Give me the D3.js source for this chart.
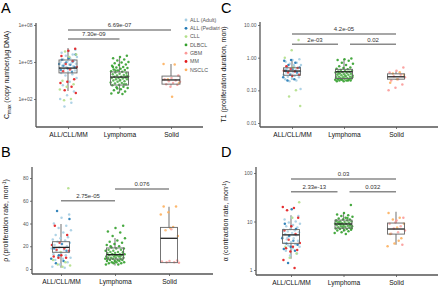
<!DOCTYPE html>
<html><head><meta charset="utf-8">
<script src="https://cdn.jsdelivr.net/npm/d3@7"></script>
<style>body{margin:0;background:#fff}svg{display:block;font-family:"Liberation Sans",Arial,sans-serif}</style>
</head><body><svg id="c" width="440" height="288"></svg>
<script>
const groups = ["ALL/CLL/MM", "Lymphoma", "Solid"];
const subtypes = ["ALL (Adult)", "ALL (Pediatric)", "CLL", "DLBCL", "GBM", "MM", "NSCLC"];
const subtypeColors = ["#a6cee3", "#1f78b4", "#b2df8a", "#33a02c", "#fb9a99", "#e31a1c", "#fdb05e"];
const subtypeGroup = ["ALL/CLL/MM", "ALL/CLL/MM", "ALL/CLL/MM", "Lymphoma", "Solid", "ALL/CLL/MM", "Solid"];

// Panel A: Cmax (copy number / ug DNA)
const cmaxAdult = [1e6, 7.9e5, 5.6e5, 4e5, 3.2e5, 2.5e5, 2e5, 1.6e5, 1.3e5, 1.1e5, 1e5, 8.9e4, 7.9e4, 7.1e4, 6.3e4, 5e4, 4.5e4, 4e4, 3.2e4, 2.8e4, 2.5e4, 2e4, 1.6e4, 1.3e4, 1e4, 7.9e3, 5e3, 2.5e3, 1.3e3, 400, 200, 100, 50, 25];
const cmaxPediatric = [4e5, 2e5, 1.5e5, 1.1e5, 9e4, 7e4, 6e4, 5e4, 4e4, 3e4, 2.2e4, 1.6e4];
const cmaxCLL = [7e5, 4e5, 2.5e5, 3e3, 1.6e3, 1e3, 6e2, 1e2, 8e1];
const cmaxMM = [1.2e6, 8e5, 3e5, 1.2e5, 7e4, 4e4, 2.5e4, 1.8e4, 4e3, 2.5e3, 2e3, 1e3, 5e2, 3e2];
const cmaxDLBCL = [3.2e5, 2.5e5, 2e5, 1.6e5, 1.3e5, 1e5, 8.9e4, 7.9e4, 6.3e4, 5.6e4, 5e4, 4e4, 3.5e4, 3.2e4, 2.8e4, 2.5e4, 2.2e4, 2e4, 1.8e4, 1.6e4, 1.4e4, 1.3e4, 1.1e4, 1e4, 8.9e3, 7.9e3, 7.1e3, 6.3e3, 6.3e3, 5.6e3, 5e3, 5e3, 4.5e3, 4e3, 4e3, 3.5e3, 3.2e3, 2.8e3, 2.5e3, 2.2e3, 2e3, 1.8e3, 1.6e3, 1.4e3, 1.3e3, 1e3, 8.9e2, 7.9e2, 6.3e2, 5e2, 4e2, 3.2e2, 2.8e2, 2.5e2, 2e4, 7.9e3, 3.2e3, 4e4, 1.6e3, 7e2];
const cmaxGBM = [7.9e3, 5e3, 4e3, 3.2e3, 2.8e3, 2.5e3, 2e3, 1.6e3, 1.4e3, 1e3];
const cmaxNSCLC = [7e4, 6.3e4, 4e3, 2e3, 1.5e2];
const cmaxBox = [[450, 1.3e4, 3.2e4, 1.45e5, 1.35e6], [310, 1.35e3, 6e3, 1.55e4, 2.1e5], [1.26e3, 1.6e3, 3.5e3, 7.2e3, 6.9e4]];
const cmaxTicks = [1e2, 1e5, 1e8];
const cmaxTickLabels = ["1e+02", "1e+05", "1e+08"];
const cmaxBrackets = [["ALL/CLL/MM", "Lymphoma", "7.30e-09", 0], ["ALL/CLL/MM", "Solid", "6.69e-07", 1]];

// Panel B: rho (proliferation rate, 1/mon)
const rhoAdult = [48, 45, 40, 38, 36, 34, 32, 30, 28, 27, 26, 25, 24, 23, 22, 21, 20, 19, 18, 17, 16, 15, 14, 13, 12, 11, 10, 9, 8, 6, 4, 2, 1];
const rhoPediatric = [51, 44, 22, 18, 16, 12, 9, 7, 5];
const rhoCLL = [71, 15, 8, 6, 4, 3, 2];
const rhoMM = [38, 30, 23, 21, 18, 17, 16, 12, 11, 10, 10];
const rhoDLBCL = [38, 36, 33, 32, 29, 27, 25, 24, 23, 22, 21, 20, 19, 18, 18, 17, 17, 16, 16, 15, 15, 14, 14, 14, 13, 13, 13, 12, 12, 12, 11, 11, 11, 10, 10, 10, 10, 9, 9, 9, 8, 8, 8, 7, 7, 7, 6, 6, 6, 5, 5, 5, 4, 4, 20, 15, 12, 9, 11, 13];
const rhoGBM = [7.5, 7, 6.5, 6, 6, 5.5, 35];
const rhoNSCLC = [55, 55, 50, 48, 37, 34, 29, 36];
const rhoBox = [[1, 14.7, 19, 24, 39.6], [3, 8.8, 12.6, 18.5, 27.3], [5.5, 5.6, 27, 36.6, 54.8]];
const rhoTicks = [0, 20, 40, 60, 80];
const rhoTickLabels = ["0", "20", "40", "60", "80"];
const rhoBrackets = [["ALL/CLL/MM", "Lymphoma", "2.75e-05", 0], ["Lymphoma", "Solid", "0.076", 1]];

// Panel C: T1 (proliferation duration, mon)
const t1Adult = [0.9, 0.85, 0.75, 0.7, 0.65, 0.6, 0.55, 0.5, 0.48, 0.45, 0.43, 0.42, 0.4, 0.38, 0.36, 0.35, 0.33, 0.32, 0.3, 0.28, 0.26, 0.25, 0.23, 0.22, 0.2, 0.19, 0.11, 0.6, 0.45, 0.3];
const t1Pediatric = [0.85, 0.8, 0.7, 0.6, 0.5, 0.45, 0.4, 0.35, 0.3, 0.25, 0.22, 0.2];
const t1CLL = [3.5, 1.7, 1.0, 0.1, 0.065, 0.033, 0.5];
const t1MM = [0.55, 0.48, 0.45, 0.4, 0.38, 0.35, 0.3, 0.28];
const t1DLBCL = [0.95, 0.9, 0.85, 0.8, 0.7, 0.65, 0.6, 0.55, 0.5, 0.48, 0.46, 0.44, 0.42, 0.4, 0.4, 0.38, 0.37, 0.36, 0.35, 0.34, 0.33, 0.32, 0.31, 0.3, 0.3, 0.29, 0.28, 0.27, 0.26, 0.26, 0.25, 0.25, 0.24, 0.24, 0.23, 0.23, 0.22, 0.22, 0.21, 0.21, 0.2, 0.2, 0.2, 0.19, 0.19, 0.2, 0.22, 0.25, 0.28, 0.33];
const t1GBM = [0.5, 0.4, 0.35, 0.3, 0.27, 0.25, 0.22, 0.2, 0.15, 0.12, 0.1];
const t1NSCLC = [0.36, 0.33, 0.3, 0.22, 0.17];
const t1Box = [[0.21, 0.29, 0.39, 0.49, 0.89], [0.21, 0.23, 0.37, 0.44, 0.91], [0.21, 0.22, 0.26, 0.32, 0.38]];
const t1Ticks = [0.01, 0.1, 1, 10];
const t1TickLabels = ["0.01", "0.10", "1.00", "10.00"];
const t1Brackets = [["ALL/CLL/MM", "Lymphoma", "2e-03", 0], ["Lymphoma", "Solid", "0.02", 0], ["ALL/CLL/MM", "Solid", "4.2e-05", 1]];

// Panel D: alpha (contraction rate, 1/mon)
const alphaAdult = [13, 12, 11, 10, 9.5, 9, 8.5, 8, 7.5, 7, 6.8, 6.5, 6.2, 6, 5.8, 5.5, 5.2, 5, 4.8, 4.5, 4.3, 4, 3.8, 3.6, 3.4, 3.2, 3, 2.8, 2.5, 2.2, 2, 6.3, 5.4, 4.6, 3.9];
const alphaPediatric = [18, 9, 7, 5, 4.5, 4, 3.5, 3.3, 3, 2.7, 2.5, 1.4];
const alphaCLL = [25, 12, 3, 2.2, 1.8];
const alphaMM = [20, 19, 17, 12, 8, 6.5, 5.5, 4.2, 3.6, 3.0, 2.8, 2.6, 2.4, 1.6, 1.1];
const alphaDLBCL = [22, 15, 14, 13.5, 13, 12.5, 12, 11.5, 11, 11, 10.5, 10.5, 10, 10, 9.8, 9.5, 9.5, 9.2, 9, 9, 8.8, 8.6, 8.5, 8.4, 8.2, 8, 8, 7.8, 7.6, 7.5, 7.4, 7.2, 7, 7, 6.8, 6.6, 6.5, 6.3, 6, 5.8, 5.5, 9.7, 8.3, 7.9, 10.2, 11.8, 8.9, 7.3];
const alphaGBM = [12, 10.5, 9, 8, 7.2, 6.5, 6, 5.6, 3.3, 9.5];
const alphaNSCLC = [15, 12, 11, 9, 7.5, 5.5, 4.5, 3.5, 3.1, 4];
const alphaBox = [[1.7, 3.55, 5.3, 6.8, 13.5], [6.2, 7.3, 8.9, 10.7, 15], [3.3, 5.5, 7, 9.3, 15.9]];
const alphaTicks = [1, 10, 100];
const alphaTickLabels = ["1", "10", "100"];
const alphaBrackets = [["ALL/CLL/MM", "Lymphoma", "2.33e-13", 0], ["Lymphoma", "Solid", "0.032", 0], ["ALL/CLL/MM", "Solid", "0.03", 1]];

const svg = d3.select("#c");
svg.append("rect").attr("width", 440).attr("height", 288).attr("fill", "#fff");

function panel(cfg) {
  const g = svg.append("g");
  if (cfg.clip) {
    svg.append("clipPath").attr("id", cfg.clip.id).append("rect")
      .attr("x", cfg.clip.x).attr("y", cfg.clip.y).attr("width", cfg.clip.w).attr("height", cfg.clip.h);
    g.attr("clip-path", `url(#${cfg.clip.id})`);
  }
  const x = d3.scalePoint().domain(groups).range(cfg.xr);
  const y = (cfg.log ? d3.scaleLog() : d3.scaleLinear()).domain(cfg.yd).range([cfg.yb, cfg.yt]);

  // panel letter
  g.append("text").attr("x", cfg.letter[0]).attr("y", cfg.letter[1]).attr("font-size", 14.5)
    .attr("fill", "#000").text(cfg.letterText);

  // y axis
  const ya = g.append("g").attr("transform", `translate(${cfg.yx},0)`)
    .call(d3.axisLeft(y).tickValues(cfg.ticks).tickFormat((d, i) => cfg.tickLabels[i]).tickSize(2).tickPadding(1.5));
  ya.select(".domain").remove();
  ya.selectAll(".tick line").attr("stroke", "#555").attr("stroke-width", 0.8);
  ya.selectAll(".tick text").attr("font-size", 5).attr("fill", "#555").attr("font-family", null);
  g.append("line").attr("x1", cfg.yx).attr("x2", cfg.yx).attr("y1", cfg.yt).attr("y2", cfg.yb)
    .attr("stroke", "#555").attr("stroke-width", 1.3);

  // x axis
  const xa = g.append("g").attr("transform", `translate(0,${cfg.yb})`)
    .call(d3.axisBottom(x).tickSize(2).tickPadding(3.5));
  xa.select(".domain").remove();
  xa.selectAll(".tick line").attr("stroke", "#555").attr("stroke-width", 0.8);
  xa.selectAll(".tick text").attr("font-size", 6.6).attr("fill", "#111").attr("font-family", null);
  g.append("line").attr("x1", cfg.yx).attr("x2", cfg.xEnd).attr("y1", cfg.yb).attr("y2", cfg.yb)
    .attr("stroke", "#555").attr("stroke-width", 1.3);

  // y title
  const t = g.append("text").attr("transform", `translate(${cfg.titleX},${(cfg.yt + cfg.yb) / 2}) rotate(-90)`)
    .attr("text-anchor", "middle").attr("font-size", 7).attr("fill", "#111");
  cfg.title(t);

  // boxes (fill under points)
  const bw = cfg.boxW;
  cfg.box.forEach((b, i) => {
    const cx = x(groups[i]);
    g.append("line").attr("x1", cx).attr("x2", cx).attr("y1", y(b[4])).attr("y2", y(b[3]))
      .attr("stroke", "#888").attr("stroke-width", 1.2);
    g.append("line").attr("x1", cx).attr("x2", cx).attr("y1", y(b[1])).attr("y2", y(b[0]))
      .attr("stroke", "#888").attr("stroke-width", 1.2);
  });

  // points
  const counters = {};
  cfg.series.forEach((vals, si) => {
    const grp = subtypeGroup[si];
    vals.forEach(v => {
      const k = counters[grp] = (counters[grp] || 0) + 1;
      const j = ((k * 0.6180339887 + 0.29) % 1) * 2 - 1;
      g.append("circle").attr("cx", x(grp) + j * cfg.jit).attr("cy", y(v)).attr("r", 1.25)
        .attr("fill", subtypeColors[si]).attr("fill-opacity", 0.9);
    });
  });

  // box outlines on top
  cfg.box.forEach((b, i) => {
    const cx = x(groups[i]);
    g.append("rect").attr("x", cx - bw / 2).attr("y", y(b[3])).attr("width", bw).attr("height", y(b[1]) - y(b[3]))
      .attr("fill", "#fff").attr("fill-opacity", 0.15).attr("stroke", "#666").attr("stroke-width", 0.9);
    g.append("line").attr("x1", cx - bw / 2).attr("x2", cx + bw / 2).attr("y1", y(b[2])).attr("y2", y(b[2]))
      .attr("stroke", "#222").attr("stroke-width", 1.3);
  });

  // significance brackets
  cfg.brackets.forEach(br => {
    let x1 = x(br[0]), x2 = x(br[1]);
    const same = cfg.brackets.filter(o => o !== br && o[3] === br[3]);
    if (same.some(o => o[0] === br[1] || o[1] === br[1])) x2 -= 6;
    if (same.some(o => o[0] === br[0] || o[1] === br[0])) x1 += 6;
    const by = cfg.brBase - br[3] * cfg.brStep;
    g.append("line").attr("x1", x1).attr("x2", x2).attr("y1", by).attr("y2", by)
      .attr("stroke", "#8a8a8a").attr("stroke-width", 1.6);
    g.append("text").attr("x", (x1 + x2) / 2).attr("y", by - 2.6).attr("text-anchor", "middle")
      .attr("font-size", 6).attr("fill", "#333").text(br[2]);
  });
  return g;
}

const gA = panel({
  letterText: "A", letter: [1, 13], clip: {id: "clipA", x: 0, y: 0, w: 220, h: 144},
  xr: [68, 171], yx: 36, xEnd: 203, yt: 23, yb: 127, log: true, yd: [Math.pow(10, -0.27), Math.pow(10, 8.16)],
  ticks: cmaxTicks, tickLabels: cmaxTickLabels, titleX: 9, boxW: 18, jit: 9,
  box: cmaxBox, brackets: cmaxBrackets, brBase: 39, brStep: 9,
  series: [cmaxAdult, cmaxPediatric, cmaxCLL, cmaxDLBCL, cmaxGBM, cmaxMM, cmaxNSCLC],
  title: t => { t.append("tspan").text("C"); t.append("tspan").attr("dy", 1.6).attr("font-size", 5).text("max");
    t.append("tspan").attr("dy", -1.6).text(" (copy number/\u03bcg DNA)"); }
});

// legend (inside panel A clip)
subtypes.forEach((s, i) => {
  const ly = 20 + i * 8.3;
  gA.append("circle").attr("cx", 186).attr("cy", ly).attr("r", 1.4).attr("fill", subtypeColors[i]);
  gA.append("text").attr("x", 190).attr("y", ly + 1.8).attr("font-size", 5.3).attr("fill", "#555").text(s);
});

panel({
  letterText: "B", letter: [1, 157],
  xr: [61, 169], yx: 32, xEnd: 213, yt: 167, yb: 274, log: false, yd: [-4.4, 89.7],
  ticks: rhoTicks, tickLabels: rhoTickLabels, titleX: 8, boxW: 17, jit: 10,
  box: rhoBox, brackets: rhoBrackets, brBase: 200.7, brStep: 11.7,
  series: [rhoAdult, rhoPediatric, rhoCLL, rhoDLBCL, rhoGBM, rhoMM, rhoNSCLC],
  title: t => { t.append("tspan").text("\u03c1 (proliferation rate, mon");
    t.append("tspan").attr("dy", -2.5).attr("font-size", 4.5).text("-1");
    t.append("tspan").attr("dy", 2.5).text(")"); }
});

panel({
  letterText: "C", letter: [221, 13],
  xr: [292, 396], yx: 260, xEnd: 438, yt: 22, yb: 127, log: true, yd: [Math.pow(10, -2.122), Math.pow(10, 1.092)],
  ticks: t1Ticks, tickLabels: t1TickLabels, titleX: 226, boxW: 17, jit: 9,
  box: t1Box, brackets: t1Brackets, brBase: 44.3, brStep: 10.3,
  series: [t1Adult, t1Pediatric, t1CLL, t1DLBCL, t1GBM, t1MM, t1NSCLC],
  title: t => { t.text("T1 (proliferation duration, mon)"); }
});

panel({
  letterText: "D", letter: [221, 157],
  xr: [291, 396], yx: 256, xEnd: 438, yt: 167, yb: 275, log: true, yd: [Math.pow(10, -0.103), Math.pow(10, 2.124)],
  ticks: alphaTicks, tickLabels: alphaTickLabels, titleX: 228, boxW: 17, jit: 9,
  box: alphaBox, brackets: alphaBrackets, brBase: 191.7, brStep: 12.7,
  series: [alphaAdult, alphaPediatric, alphaCLL, alphaDLBCL, alphaGBM, alphaMM, alphaNSCLC],
  title: t => { t.append("tspan").text("\u03b1 (contraction rate, mon");
    t.append("tspan").attr("dy", -2.5).attr("font-size", 4.5).text("-1");
    t.append("tspan").attr("dy", 2.5).text(")"); }
});
</script></body></html>
